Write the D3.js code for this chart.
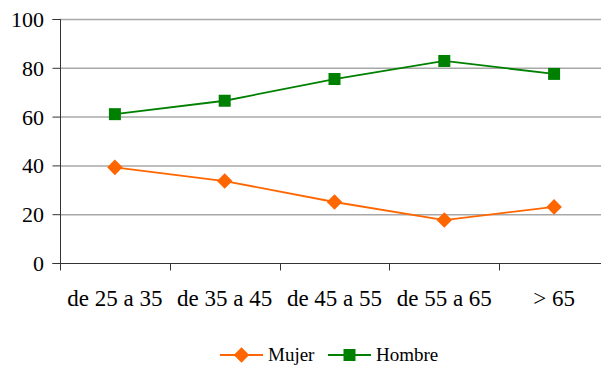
<!DOCTYPE html>
<html>
<head>
<meta charset="utf-8">
<script src="https://cdn.jsdelivr.net/npm/d3@7"></script>
<style>
  @font-face { font-family: "ChartSerif"; src: local("Liberation Serif"), local("LiberationSerif"), local("Liberation Serif Regular"), local("LiberationSerif-Regular"); }
  body { margin: 0; background: #fff; font-family: "Liberation Serif", serif; }
  svg, svg text { font-family: "ChartSerif", "Liberation Serif", serif; }
</style>
</head>
<body>
<script>
var categories = ["de 25 a 35", "de 35 a 45", "de 45 a 55", "de 55 a 65", "> 65"];
var mujer = [39.2, 33.6, 25.0, 17.6, 23.0];
var hombre = [61.0, 66.5, 75.4, 82.8, 77.5];
var yTicks = [0, 20, 40, 60, 80, 100];

var width = 601, height = 367;
var margin = { left: 60, top: 19, right: -8, bottom: 104 };
var fontFor = function () { return "Liberation Serif"; };

var svg = d3.select("body")
    .append("svg")
    .attr("width", width)
    .attr("height", height)
    .attr("font-family", "Liberation Serif");

var x = d3.scaleBand()
    .domain(categories)
    .range([margin.left, width - margin.right]);

var y = d3.scaleLinear()
    .domain([0, 100])
    .range([height - margin.bottom, margin.top]);

// gridlines
svg.selectAll(".grid")
    .data(yTicks.filter(function (d) { return d > 0; }))
    .enter()
    .append("line")
    .attr("class", "grid")
    .attr("x1", margin.left)
    .attr("x2", width)
    .attr("y1", function (d) { return y(d) + 0.5; })
    .attr("y2", function (d) { return y(d) + 0.5; })
    .attr("stroke", "#a8a8a8")
    .attr("stroke-width", 1.5);

// y axis ticks
var yAxis = svg.append("g")
    .attr("transform", "translate(" + (margin.left + 0.5) + ",0)")
    .call(d3.axisLeft(y).tickValues(yTicks).tickSize(8).tickFormat(""));
yAxis.attr("font-family", null);
yAxis.selectAll("line").attr("stroke", "#333");
yAxis.select(".domain").attr("stroke", "#333").attr("d", "M-8," + (y(100) + 0.5) + "H0V" + (y(0) + 0.5) + "H-8");

svg.selectAll(".ylabel")
    .data(yTicks)
    .enter()
    .append("text")
    .attr("class", "ylabel")
    .attr("x", margin.left - 16)
    .attr("y", function (d) { return y(d) + 8; })
    .attr("text-anchor", "end")
    .style("font-family", fontFor)
    .style("font-size", "22px")
    .text(function (d) { return d; });

// x axis
var x0 = y(0) + 0.5;
svg.append("line")
    .attr("x1", margin.left)
    .attr("x2", width)
    .attr("y1", x0)
    .attr("y2", x0)
    .attr("stroke", "#333");
svg.selectAll(".xtick")
    .data(categories)
    .enter()
    .append("line")
    .attr("class", "xtick")
    .attr("x1", function (d) { return Math.round(x(d)) + 0.5; })
    .attr("x2", function (d) { return Math.round(x(d)) + 0.5; })
    .attr("y1", x0)
    .attr("y2", x0 + 7)
    .attr("stroke", "#333");
svg.selectAll(".xlabel")
    .data(categories)
    .enter()
    .append("text")
    .attr("class", "xlabel")
    .attr("x", function (d) { return x(d) + x.bandwidth() / 2; })
    .attr("y", x0 + 42)
    .attr("text-anchor", "middle")
    .style("font-family", fontFor)
    .style("font-size", "23px")
    .text(function (d) { return d; });

var series = [
    { name: "Mujer", values: mujer, color: "#ff6600" },
    { name: "Hombre", values: hombre, color: "#008000" }
];

var line = d3.line()
    .x(function (d, i) { return x(categories[i]) + x.bandwidth() / 2; })
    .y(function (d) { return y(d); });

function marker(s) {
    if (s.name === "Mujer") return d3.symbol().type(d3.symbolSquare).size(121)();
    return d3.symbol().type(d3.symbolSquare).size(144)();
}

series.forEach(function (s) {
    svg.append("path")
        .attr("d", line(s.values))
        .attr("fill", "none")
        .attr("stroke", s.color)
        .attr("stroke-width", 1.8);
    svg.selectAll(".pt-" + s.name)
        .data(s.values)
        .enter()
        .append("path")
        .attr("class", "pt-" + s.name)
        .attr("d", marker(s))
        .attr("transform", function (d, i) {
            var t = "translate(" + (x(categories[i]) + x.bandwidth() / 2) + "," + y(d) + ")";
            return s.name === "Mujer" ? t + " rotate(45)" : t;
        })
        .attr("fill", s.color);
});

// legend
var legendItems = [
    { s: series[0], x: 220, w: 43 },
    { s: series[1], x: 328, w: 43 }
];
var ly = 355;
svg.selectAll(".legline")
    .data(legendItems)
    .enter()
    .append("line")
    .attr("class", "legline")
    .attr("x1", function (d) { return d.x; })
    .attr("x2", function (d) { return d.x + d.w; })
    .attr("y1", ly).attr("y2", ly)
    .attr("stroke", function (d) { return d.s.color; })
    .attr("stroke-width", 1.8);
svg.selectAll(".legmark")
    .data(legendItems)
    .enter()
    .append("path")
    .attr("class", "legmark")
    .attr("d", function (d) { return marker(d.s); })
    .attr("transform", function (d) {
        return "translate(" + (d.x + d.w / 2) + "," + ly + ")" + (d.s.name === "Mujer" ? " rotate(45)" : "");
    })
    .attr("fill", function (d) { return d.s.color; });
svg.selectAll(".legtext")
    .data(legendItems)
    .enter()
    .append("text")
    .attr("class", "legtext")
    .attr("x", function (d) { return d.x + d.w + 5; })
    .attr("y", ly + 6)
    .style("font-family", fontFor)
    .style("font-size", "19px")
    .text(function (d) { return d.s.name; });
</script>
</body>
</html>
